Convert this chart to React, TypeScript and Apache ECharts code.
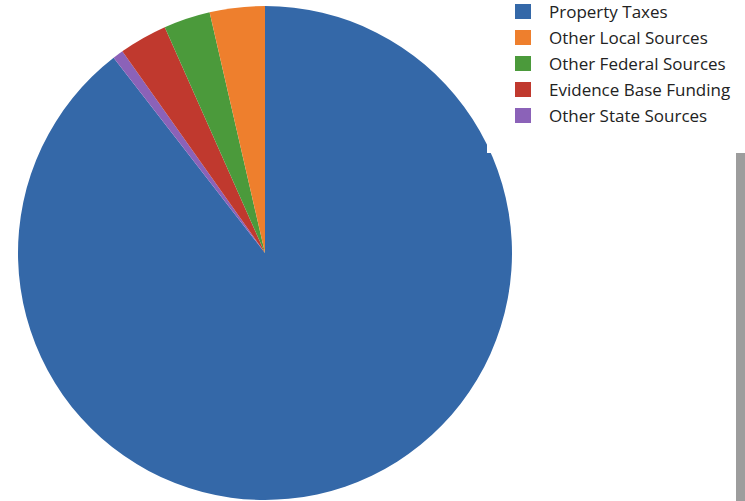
import React, { useEffect, useRef } from "react";
import * as echarts from "echarts";

const categories = [
  "Property Taxes",
  "Other State Sources",
  "Evidence Base Funding",
  "Other Federal Sources",
  "Other Local Sources",
];
const values = [89.5, 0.7, 3.15, 3.05, 3.6];
const colors = ["#3468a8", "#8b62b8", "#c0392e", "#4b9a3b", "#ee7f2d"];
const legendOrder = [
  "Property Taxes",
  "Other Local Sources",
  "Other Federal Sources",
  "Evidence Base Funding",
  "Other State Sources",
];

export default function App() {
  const ref = useRef<HTMLDivElement>(null);
  useEffect(() => {
    if (!ref.current) return;
    const chart = echarts.init(ref.current, undefined, { renderer: "svg" });
    chart.setOption({
      animation: false,
      backgroundColor: "#ffffff",
      legend: {
        orient: "vertical",
        left: 510,
        top: -2,
        itemWidth: 16,
        itemHeight: 15,
        itemGap: 9,
        icon: "rect",
        data: legendOrder,
        textStyle: {
          fontFamily: "Open Sans",
          fontSize: 17,
          lineHeight: 16,
          color: "#222222",
          padding: [0, 0, 0, 13],
        },
        z: 5,
      },
      graphic: [
        {
          type: "rect",
          z: 3,
          shape: { x: 487, y: 0, width: 251, height: 153 },
          style: { fill: "#ffffff" },
        },
        {
          type: "rect",
          z: 3,
          shape: { x: 736, y: 153, width: 9, height: 348 },
          style: { fill: "#9d9d9d" },
        },
      ],
      series: [
        {
          type: "pie",
          center: [265, 253],
          radius: 247,
          startAngle: 90,
          clockwise: true,
          label: { show: false },
          labelLine: { show: false },
          emphasis: { disabled: true },
          itemStyle: { borderWidth: 0 },
          data: categories.map((name, i) => ({
            name,
            value: values[i],
            itemStyle: { color: colors[i] },
          })),
        },
      ],
    });
    return () => chart.dispose();
  }, []);
  return (
    <div
      ref={ref}
      style={{ position: "fixed", left: 0, top: 0, width: 745, height: 501 }}
    />
  );
}
